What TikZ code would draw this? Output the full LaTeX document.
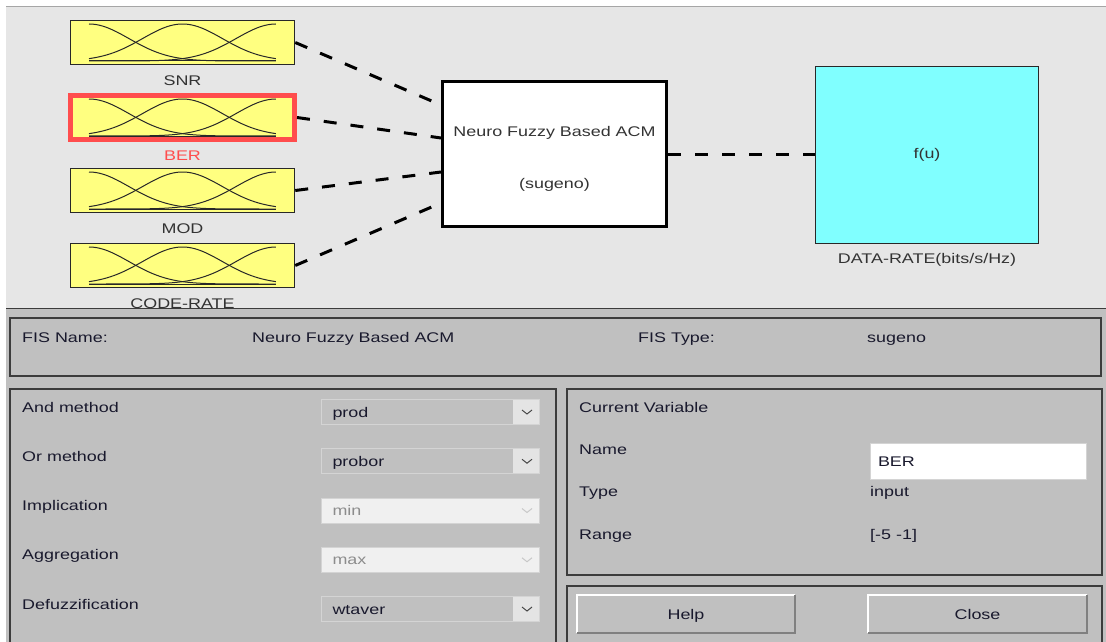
\documentclass[tikz,border=0pt]{standalone}
\usepackage{fontspec}
\setmainfont{Liberation Sans}[FakeStretch=1.28]
\usetikzlibrary{positioning}

\definecolor{topgray}{RGB}{230,230,230}
\definecolor{panelgray}{RGB}{192,192,192}
\definecolor{mfyellow}{RGB}{255,255,128}
\definecolor{fcyan}{RGB}{128,255,255}
\definecolor{selred}{RGB}{255,77,77}
\definecolor{boxline}{RGB}{40,40,40}
\definecolor{framedark}{RGB}{60,60,60}
\definecolor{lblgray}{RGB}{51,51,51}
\definecolor{txtdark}{RGB}{25,25,45}
\definecolor{ddborder}{RGB}{212,212,212}
\definecolor{ddarrow}{RGB}{228,228,228}
\definecolor{ddoffcol}{RGB}{240,240,240}
\definecolor{offtext}{RGB}{140,140,140}
\definecolor{chevdark}{RGB}{70,70,70}
\definecolor{chevoff}{RGB}{200,200,200}

\begin{document}
\begin{tikzpicture}[x=1pt, y=-1pt, font=\fontsize{14}{16}\selectfont,
    mfbox/.style={draw=boxline, line width=1.5pt, fill=mfyellow, minimum width=224pt, minimum height=44pt, inner sep=0pt},
    mfsel/.style={mfbox, draw=selred, line width=5pt},
    mfline/.style={draw=boxline, line width=1pt},
    lbl/.style={text=lblgray, inner sep=0pt, text height=10pt, text depth=0pt},
    link/.style={line width=3pt, dash pattern=on 13pt off 14pt},
    panel/.style={draw=framedark, line width=1.5pt},
    txt/.style={anchor=west, inner sep=0pt, text=txtdark, text height=10pt, text depth=0pt},
    ddon/.style={fill=panelgray, draw=ddborder, line width=1pt, minimum height=25pt, text width=196pt, align=left, inner xsep=11pt, text height=10pt, text depth=0pt, text=txtdark},
    ddoff/.style={ddon, fill=ddoffcol, text=offtext},
    btn/.style={fill=panelgray, minimum width=218pt, minimum height=38pt, text=txtdark, text height=10pt, text depth=0pt}]

    \useasboundingbox (0,0) rectangle (1106,642);
    \clip (0,0) rectangle (1106,642);
    \fill[white] (0,0) rectangle (1106,642);

    % Diagram area
    \fill[topgray] (6,7) rectangle (1106,308);
    \draw[gray!70, line width=1pt] (6,7) -- (1106,7);

    % Input variables
    \node (snr) [mfbox] at (182.5,42.5) {};
    \node (ber) [mfsel] at (182.5,117.5) {};
    \node (mod) [mfbox] at (182.5,190.5) {};
    \node (coderate) [mfbox] at (182.5,265.5) {};
    \foreach \b in {snr,ber,mod,coderate} {
        \begin{scope}[shift={(\b.center)}]
            \foreach \c in {0,0.5,1}
                \draw[mfline] plot[domain=0:1, samples=70, smooth] ({-93.5+187*\x}, {18.5-37*exp(-(\x-\c)*(\x-\c)/0.0911)});
            \draw[mfline] (-93.5,18.5) -- (93.5,18.5);
        \end{scope}
    }
    \node (snrlbl) [lbl, below=10pt of snr] {SNR};
    \node (berlbl) [lbl, below=8pt of ber, text=selred] {BER};
    \node (modlbl) [lbl, below=10pt of mod] {MOD};
    \node (coderatelbl) [lbl, below=10.5pt of coderate] {CODE-RATE};

    % Rule block and output
    \node (acm) [draw=black, line width=3.5pt, fill=white, minimum width=224pt, minimum height=144.5pt, align=center, text=lblgray, text height=71pt, text depth=3pt] at (554.5,154) {Neuro Fuzzy Based ACM\\[36pt](sugeno)};
    \node (datarate) [draw=boxline, line width=1.2pt, fill=fcyan, minimum width=223pt, minimum height=177pt, text=lblgray] at (927,155) {f(u)};
    \node (dataratelbl) [lbl, below=9pt of datarate] {DATA-RATE(bits/s/Hz)};

    % Connectors
    \coordinate (in1) at (441,105);
    \coordinate (in2) at (441,138);
    \coordinate (in3) at (441,172);
    \coordinate (in4) at (441,203);
    \draw[link] (snr.east) -- (in1);
    \draw[link] (ber.east) -- (in2);
    \draw[link] (mod.east) -- (in3);
    \draw[link] (coderate.east) -- (in4);
    \draw[link] (acm.east) -- (acm.east -| datarate.west);

    % Settings area
    \fill[panelgray] (6,308) rectangle (1106,642);
    \draw[framedark, line width=1.5pt] (6,308.5) -- (1106,308.5);
    \draw[panel] (10,318) rectangle (1101,376);
    \draw[panel] (10,389) rectangle (556,650);
    \draw[panel] (567,389) rectangle (1102,575);
    \draw[panel] (567,586) rectangle (1102,650);

    \node (fisname) [txt] at (22,337) {FIS Name:};
    \node (fisnameval) [txt] at (252,337) {Neuro Fuzzy Based ACM};
    \node (fistype) [txt] at (638,337) {FIS Type:};
    \node (fistypeval) [txt] at (867,337) {sugeno};

    % Methods
    \foreach \lbl/\val/\st/\af/\cf [count=\i from 0] in {And method/prod/ddon/ddarrow/chevdark, Or method/probor/ddon/ddarrow/chevdark, Implication/min/ddoff/ddoffcol/chevoff, Aggregation/max/ddoff/ddoffcol/chevoff, Defuzzification/wtaver/ddon/ddarrow/chevdark} {
        \node (m\i) [txt] at (22,407+49.25*\i) {\lbl};
        \node (dd\i) [\st, anchor=north west] at (321,399+49.25*\i) {\val};
        \fill[\af] ([xshift=-27pt,yshift=-1pt]dd\i.north east) rectangle ([xshift=-1pt,yshift=1pt]dd\i.south east);
        \draw[\cf, line width=1pt] ([xshift=-18pt,yshift=2pt]dd\i.east) -- ([xshift=-13pt,yshift=-2pt]dd\i.east) -- ([xshift=-8pt,yshift=2pt]dd\i.east);
    }

    % Current variable
    \node (curvar) [txt] at (579,407) {Current Variable};
    \node (vname) [txt] at (579,449) {Name};
    \node (vtype) [txt] at (579,491) {Type};
    \node (vrange) [txt] at (579,534) {Range};
    \node (namebox) [fill=white, draw=ddborder, line width=1pt, anchor=north west, minimum height=36pt, text width=200pt, inner xsep=8pt, align=left, text=txtdark, text height=10pt, text depth=0pt] at (869.5,442.5) {BER};
    \node (vtypeval) [txt] at (870,491) {input};
    \node (vrangeval) [txt] at (870,534) {[-5 -1]};

    % Buttons
    \node (help) [btn] at (686,614) {Help};
    \node (close) [btn] at (977.5,614) {Close};
    \foreach \k in {help,close} {
        \draw[white, line width=2pt] (\k.south west) |- (\k.north east);
        \draw[gray, line width=2pt] (\k.south west) -| (\k.north east);
    }
\end{tikzpicture}
\end{document}
